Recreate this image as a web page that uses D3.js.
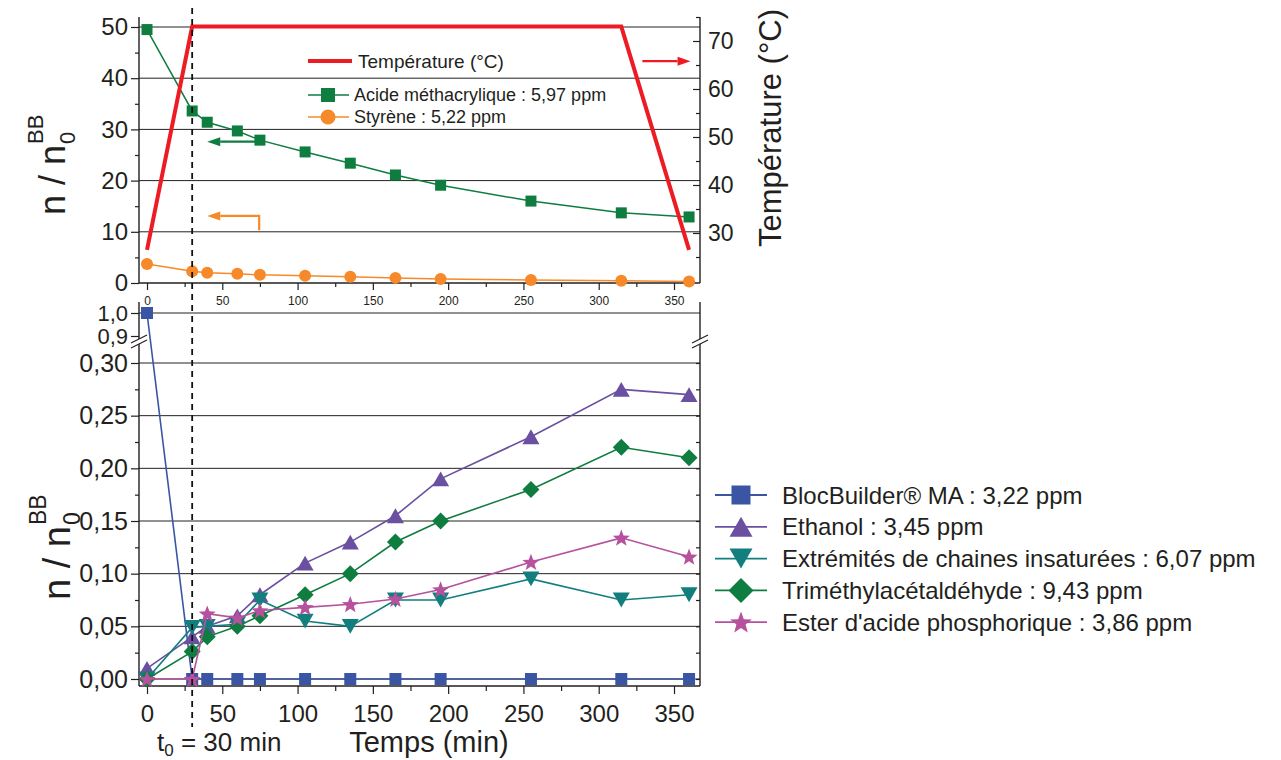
<!DOCTYPE html>
<html><head><meta charset="utf-8">
<script src="https://cdn.jsdelivr.net/npm/d3@7"></script>
<style>
body{margin:0;background:#fff}
svg{display:block}
text{font-family:"Liberation Sans", Arial, sans-serif; fill:#231f20}
</style>
</head><body>
<svg id="c" width="1281" height="760"></svg>
<script>
// ---------------- DATA ----------------
const times = [0,30,40,60,75,105,135,165,195,255,315,360];
const tempTimes = [0,30,315,360];
const tempValues = [26.5,73,73,26.5];
const acideValues = [49.5,33.6,31.4,29.7,27.9,25.6,23.4,21.1,19.1,16.0,13.7,12.9];
const styreneValues = [3.7,2.3,2.0,1.8,1.6,1.4,1.2,1.0,0.8,0.6,0.45,0.3];
const blocValues = [1.0,0,0,0,0,0,0,0,0,0,0,0];
const ethanolValues = [0.01,0.04,0.05,0.06,0.08,0.11,0.13,0.155,0.19,0.23,0.275,0.27];
const extremValues = [0.0,0.049,0.05,0.052,0.075,0.055,0.05,0.075,0.075,0.095,0.075,0.08];
const trimethValues = [0.0,0.026,0.04,0.05,0.06,0.08,0.10,0.13,0.15,0.18,0.22,0.21];
const esterValues = [0.0,0.0,0.062,0.058,0.065,0.068,0.071,0.076,0.085,0.111,0.134,0.116];

const xTicks = [0,50,100,150,200,250,300,350];
const xMinor = [25,75,125,175,225,275,325];
const topYTicks = [0,10,20,30,40,50];
const topYMinor = [5,15,25,35,45];
const tempTicks = [30,40,50,60,70];
const tempMinor = [25,35,45,55,65,75];
const bottomYTicks = [0,0.05,0.10,0.15,0.20,0.25,0.30];
const bottomYMinor = [0.025,0.075,0.125,0.175,0.225,0.275];
const upperYTicks = [0.9,1.0];

const topLegend = ["Température (°C)","Acide méthacrylique : 5,97 ppm","Styrène : 5,22 ppm"];
const bottomLegend = ["BlocBuilder® MA : 3,22 ppm","Ethanol : 3,45 ppm","Extrémités de chaines insaturées : 6,07 ppm","Triméthylacétaldéhyde : 9,43 ppm","Ester d'acide phosphorique : 3,86 ppm"];

const C = {red:"#ed1c24", green:"#0e7d3f", orange:"#f68a2a", blue:"#3a55a4", purple:"#6b4fa0", teal:"#127f7e", magenta:"#b6519e"};

// ---------------- SCALES ----------------
const L = 139, R = 700;
const x = d3.scaleLinear().domain([0,350]).range([147,674]);
const yTop = d3.scaleLinear().domain([0,50]).range([283,27]);
const yTemp = d3.scaleLinear().domain([30,70]).range([233,41]);
const yBot = d3.scaleLinear().domain([0,0.3,0.9,1.0]).range([679,363,336,313]);
const topY0 = 17, topY1 = 283, botY0 = 302, botY1 = 686;

const svg = d3.select("#c");
const comma = f => d => d3.format(f)(d).replace(".", ",");

// ---------------- MARKERS ----------------
function marker(g, type, cx, cy, s, color){
  if(type==="square") g.append("rect").attr("x",cx-s/2).attr("y",cy-s/2).attr("width",s).attr("height",s).attr("fill",color);
  else if(type==="circle") g.append("circle").attr("cx",cx).attr("cy",cy).attr("r",s/2).attr("fill",color);
  else if(type==="triUp"){const h=s*0.87; g.append("path").attr("d",`M${cx},${cy-h/2}L${cx+s/2},${cy+h/2}L${cx-s/2},${cy+h/2}Z`).attr("fill",color);}
  else if(type==="triDown"){const h=s*0.87; g.append("path").attr("d",`M${cx},${cy+h/2}L${cx+s/2},${cy-h/2}L${cx-s/2},${cy-h/2}Z`).attr("fill",color);}
  else if(type==="diamond") g.append("path").attr("d",`M${cx},${cy-s/2}L${cx+s/2},${cy}L${cx},${cy+s/2}L${cx-s/2},${cy}Z`).attr("fill",color);
  else if(type==="star"){
    const ro=s/2, ri=ro*0.42; let p=[];
    for(let i=0;i<10;i++){const r=i%2?ri:ro; const a=-Math.PI/2+i*Math.PI/5; p.push([cx+r*Math.cos(a), cy+r*Math.sin(a)+ro*0.08]);}
    g.append("path").attr("d","M"+p.map(q=>q.join(",")).join("L")+"Z").attr("fill",color);
  }
}

function series(g, xs, vals, ys, color, type, size, lw){
  const pts = xs.map((t,i)=>[x(t), ys(vals[i])]);
  g.append("path").attr("d", d3.line()(pts)).attr("fill","none").attr("stroke",color).attr("stroke-width",lw);
  pts.forEach(p=>marker(g,type,p[0],p[1],size,color));
}

// ---------------- GRID ----------------
const grid = svg.append("g").attr("stroke","#222").attr("stroke-width",1);
topYTicks.filter(d=>d>0).forEach(d=>grid.append("line").attr("x1",L).attr("x2",R).attr("y1",yTop(d)).attr("y2",yTop(d)));
bottomYTicks.concat([1.0]).forEach(d=>grid.append("line").attr("x1",L).attr("x2",R).attr("y1",yBot(d)).attr("y2",yBot(d)));

// ---------------- AXES ----------------
function styleAxis(g, fs){
  g.select(".domain").remove();
  g.selectAll("line").attr("stroke","#231f20").attr("stroke-width",1.2);
  g.selectAll("text").attr("font-family","Liberation Sans, Arial, sans-serif").attr("font-size",fs).attr("fill","#231f20");
}
// top left
styleAxis(svg.append("g").attr("transform",`translate(${L},0)`).call(d3.axisLeft(yTop).tickValues(topYTicks).tickSize(8).tickPadding(3).tickFormat(d3.format("d"))),24);
styleAxis(svg.append("g").attr("transform",`translate(${L},0)`).call(d3.axisLeft(yTop).tickValues(topYMinor).tickSize(4).tickFormat("")),24);
// top right (temperature)
styleAxis(svg.append("g").attr("transform",`translate(${R},0)`).call(d3.axisRight(yTemp).tickValues(tempTicks).tickSize(-7).tickPadding(8).tickFormat(d3.format("d"))),23);
styleAxis(svg.append("g").attr("transform",`translate(${R},0)`).call(d3.axisRight(yTemp).tickValues(tempMinor).tickSize(-4).tickFormat("")),23);
// top bottom x
styleAxis(svg.append("g").attr("transform",`translate(0,${topY1})`).call(d3.axisBottom(x).tickValues(xTicks).tickSize(7).tickPadding(6).tickFormat(d3.format("d"))),12);
styleAxis(svg.append("g").attr("transform",`translate(0,${topY1})`).call(d3.axisBottom(x).tickValues(xMinor).tickSize(4).tickFormat("")),12);
// bottom left
styleAxis(svg.append("g").attr("transform",`translate(${L},0)`).call(d3.axisLeft(yBot).tickValues(bottomYTicks).tickSize(8).tickPadding(3).tickFormat(comma(".2f"))),25);
styleAxis(svg.append("g").attr("transform",`translate(${L},0)`).call(d3.axisLeft(yBot).tickValues(bottomYMinor).tickSize(4).tickFormat("")),25);
styleAxis(svg.append("g").attr("transform",`translate(${L},0)`).call(d3.axisLeft(yBot).tickValues(upperYTicks).tickSize(8).tickPadding(3).tickFormat(comma(".1f"))),22);
// bottom right (inside ticks)
styleAxis(svg.append("g").attr("transform",`translate(${R},0)`).call(d3.axisLeft(yBot).tickValues(bottomYTicks.concat(bottomYMinor)).tickSize(4).tickFormat("")),25);
// bottom x
styleAxis(svg.append("g").attr("transform",`translate(0,${botY1})`).call(d3.axisBottom(x).tickValues(xTicks).tickSize(8).tickPadding(11).tickFormat(d3.format("d"))),24);
styleAxis(svg.append("g").attr("transform",`translate(0,${botY1})`).call(d3.axisBottom(x).tickValues(xMinor).tickSize(5).tickFormat("")),24);

// frame lines
const fr = svg.append("g").attr("stroke","#231f20").attr("stroke-width",1.4);
fr.append("line").attr("x1",L).attr("x2",L).attr("y1",topY0).attr("y2",topY1);
fr.append("line").attr("x1",R).attr("x2",R).attr("y1",topY0).attr("y2",topY1);
fr.append("line").attr("x1",L).attr("x2",R).attr("y1",topY1).attr("y2",topY1);
fr.append("line").attr("x1",L).attr("x2",L).attr("y1",botY0).attr("y2",botY1);
fr.append("line").attr("x1",R).attr("x2",R).attr("y1",botY0).attr("y2",botY1);
fr.append("line").attr("x1",L).attr("x2",R).attr("y1",botY1).attr("y2",botY1);

// ---------------- TOP DATA ----------------
const gTop = svg.append("g");
series(gTop, times, acideValues, yTop, C.green, "square", 11, 1.5);
series(gTop, times, styreneValues, yTop, C.orange, "circle", 12, 1.5);
gTop.append("path").attr("d", d3.line()(tempTimes.map((t,i)=>[x(t), yTemp(tempValues[i])])))
  .attr("fill","none").attr("stroke",C.red).attr("stroke-width",4).attr("stroke-linejoin","miter");

// ---------------- BOTTOM DATA ----------------
const gBot = svg.append("g");
series(gBot, times, blocValues, yBot, C.blue, "square", 12, 1.6);
series(gBot, times, ethanolValues, yBot, C.purple, "triUp", 17, 1.6);
series(gBot, times, extremValues, yBot, C.teal, "triDown", 17, 1.6);
series(gBot, times, trimethValues, yBot, C.green, "diamond", 17, 1.6);
series(gBot, times, esterValues, yBot, C.magenta, "star", 18, 1.6);

// ---------------- BREAK MARKS ----------------
function brk(cx, cy){
  const g = svg.append("g");
  g.append("path").attr("d",`M${cx-8},${cy+2}L${cx+8},${cy-6}L${cx+8},${cy-1}L${cx-8},${cy+7}Z`).attr("fill","#fff");
  g.append("line").attr("x1",cx-8).attr("y1",cy+2).attr("x2",cx+8).attr("y2",cy-6).attr("stroke","#231f20").attr("stroke-width",1.2);
  g.append("line").attr("x1",cx-8).attr("y1",cy+7).attr("x2",cx+8).attr("y2",cy-1).attr("stroke","#231f20").attr("stroke-width",1.2);
}
brk(L, 341); brk(R, 341);

// ---------------- DASHED t0 LINE ----------------
svg.append("line").attr("x1",x(30)).attr("x2",x(30)).attr("y1",8).attr("y2",727)
  .attr("stroke","#111").attr("stroke-width",1.8).attr("stroke-dasharray","6,5");

// ---------------- ARROWS ----------------
function arrow(pts, color){
  const g = svg.append("g");
  const n = pts.length, a = pts[n-2], b = pts[n-1];
  const ang = Math.atan2(b[1]-a[1], b[0]-a[0]);
  const hl = 13, hw = 4.5;
  const base = [b[0]-hl*Math.cos(ang), b[1]-hl*Math.sin(ang)];
  const lp = pts.slice(0,n-1).concat([base]);
  g.append("path").attr("d", d3.line()(lp)).attr("fill","none").attr("stroke",color).attr("stroke-width",2.2);
  const px = -Math.sin(ang)*hw, py = Math.cos(ang)*hw;
  g.append("path").attr("d",`M${b[0]},${b[1]}L${base[0]+px},${base[1]+py}L${base[0]-px},${base[1]-py}Z`).attr("fill",color);
}
arrow([[x(74), yTop(27.6)],[x(40), yTop(27.6)]], C.green);
arrow([[x(74.5), yTop(10.3)],[x(74.5), yTop(13.1)],[x(40), yTop(13.1)]], C.orange);
arrow([[x(329), yTemp(65.8)],[x(361), yTemp(65.8)]], C.red);

// ---------------- LEGENDS ----------------
const lt = svg.append("g");
lt.append("line").attr("x1",308).attr("x2",352).attr("y1",61).attr("y2",61).attr("stroke",C.red).attr("stroke-width",4);
lt.append("text").attr("x",358).attr("y",61).attr("dy","0.35em").attr("font-size",19).text(topLegend[0]);
[[C.green,"square",14,95],[C.orange,"circle",15,117]].forEach((d,i)=>{
  lt.append("line").attr("x1",308).attr("x2",349).attr("y1",d[3]).attr("y2",d[3]).attr("stroke",d[0]).attr("stroke-width",1.6);
  marker(lt,d[1],328,d[3],d[2],d[0]);
  lt.append("text").attr("x",354).attr("y",d[3]).attr("dy","0.35em").attr("font-size",18).text(topLegend[i+1]);
});
const lb = svg.append("g");
const lbDefs = [[C.blue,"square",19],[C.purple,"triUp",23],[C.teal,"triDown",23],[C.green,"diamond",25],[C.magenta,"star",23]];
lbDefs.forEach((d,i)=>{
  const yy = 495 + i*31.8;
  lb.append("line").attr("x1",715).attr("x2",767).attr("y1",yy).attr("y2",yy).attr("stroke",d[0]).attr("stroke-width",1.8);
  marker(lb,d[1],741,yy,d[2],d[0]);
  lb.append("text").attr("x",782).attr("y",yy).attr("dy","0.36em").attr("font-size",24).text(bottomLegend[i]);
});

// ---------------- AXIS TITLES ----------------
function nLabel(bx, by, fs, sfs){
  const g = svg.append("g").attr("transform",`translate(${bx},${by}) rotate(-90)`);
  const t = g.append("text").attr("x",0).attr("y",0).attr("font-size",fs).text("n / n");
  const w = t.node().getComputedTextLength();
  g.append("text").attr("x",w+1).attr("y",sfs*0.45).attr("font-size",sfs).text("0");
  g.append("text").attr("x",w+1).attr("y",-fs*0.62).attr("font-size",sfs).text("BB");
}
nLabel(65, 215, 36, 22);
nLabel(70, 600, 38, 23);

svg.append("text").attr("transform",`translate(781,128) rotate(-90)`).attr("text-anchor","middle").attr("font-size",31).text("Température (°C)");
svg.append("text").attr("x",429).attr("y",752).attr("text-anchor","middle").attr("font-size",29).text("Temps (min)");
const t0 = svg.append("text").attr("x",157).attr("y",751).attr("font-size",26);
t0.append("tspan").text("t");
t0.append("tspan").attr("font-size",17).attr("dy",5).text("0");
t0.append("tspan").attr("dy",-5).text(" = 30 min");
</script>
</body></html>
